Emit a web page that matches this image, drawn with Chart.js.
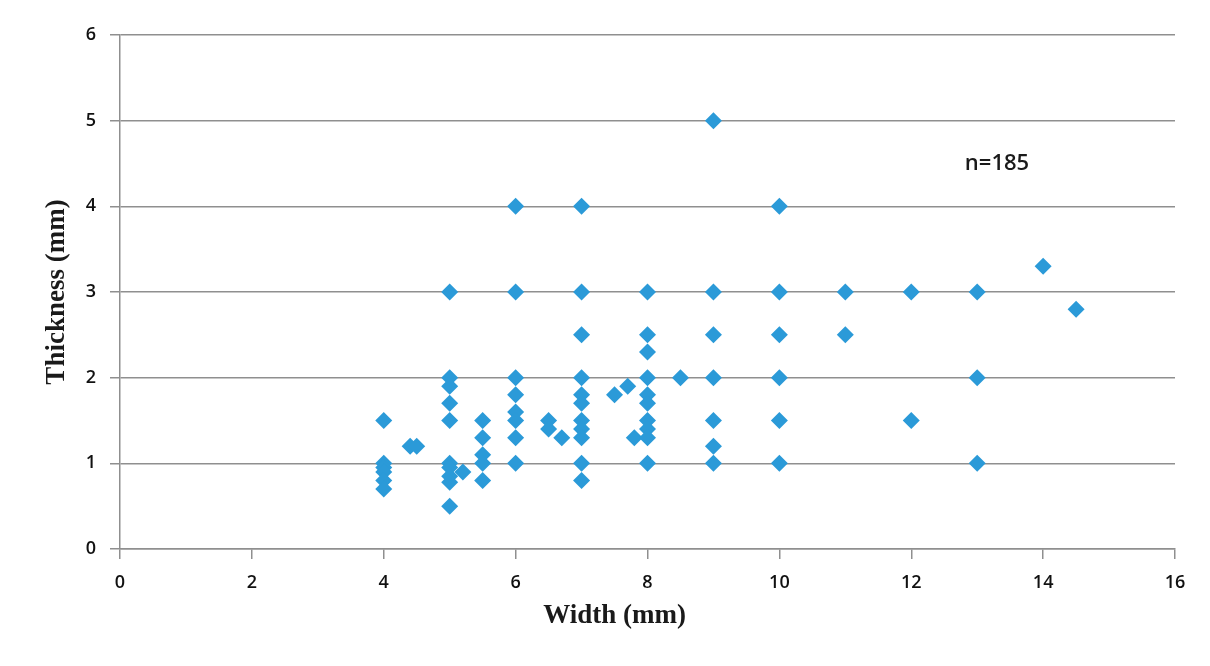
<!DOCTYPE html>
<html>
<head>
<meta charset="utf-8">
<script src="https://cdn.jsdelivr.net/npm/chart.js@4.4.1/dist/chart.umd.min.js"></script>
<style>
  html, body { margin: 0; padding: 0; background: #fff; }
</style>
</head>
<body>
<canvas id="scatterChart" width="1210" height="666"></canvas>
<script>
// width (mm) / thickness (mm) pairs
const widths = [
  4, 4, 4, 4, 4, 4,
  4.4, 4.5,
  5, 5, 5, 5, 5, 5, 5, 5, 5, 5,
  5.2,
  5.5, 5.5, 5.5, 5.5, 5.5,
  6, 6, 6, 6, 6, 6, 6, 6,
  6.5, 6.5, 6.7,
  7, 7, 7, 7, 7, 7, 7, 7, 7, 7, 7,
  7.5, 7.7, 7.8,
  8, 8, 8, 8, 8, 8, 8, 8, 8, 8,
  8.5,
  9, 9, 9, 9, 9, 9, 9,
  10, 10, 10, 10, 10, 10,
  11, 11,
  12, 12,
  13, 13, 13,
  14, 14.5
];
const thicknesses = [
  1.5, 1.0, 0.95, 0.9, 0.8, 0.7,
  1.2, 1.2,
  3.0, 2.0, 1.9, 1.7, 1.5, 1.0, 0.95, 0.85, 0.78, 0.5,
  0.9,
  1.5, 1.3, 1.1, 1.0, 0.8,
  4.0, 3.0, 2.0, 1.8, 1.6, 1.5, 1.3, 1.0,
  1.5, 1.4, 1.3,
  4.0, 3.0, 2.5, 2.0, 1.8, 1.7, 1.5, 1.4, 1.3, 1.0, 0.8,
  1.8, 1.9, 1.3,
  3.0, 2.5, 2.3, 2.0, 1.8, 1.7, 1.5, 1.4, 1.3, 1.0,
  2.0,
  5.0, 3.0, 2.5, 2.0, 1.5, 1.2, 1.0,
  4.0, 3.0, 2.5, 2.0, 1.5, 1.0,
  3.0, 2.5,
  3.0, 1.5,
  3.0, 2.0, 1.0,
  3.3, 2.8
];
const xTickValues = [0, 2, 4, 6, 8, 10, 12, 14, 16];
const yTickValues = [0, 1, 2, 3, 4, 5, 6];
const sampleNote = 'n=185';

const points = widths.map((w, i) => ({ x: w, y: thicknesses[i] }));

const gridGray = '#8f8f8f';
const tickFont = { family: '"Open Sans", sans-serif', size: 18, weight: '600' };
const titleFont = { family: '"Liberation Serif", "Times New Roman", serif', size: 27, weight: 'bold' };

// extra texts: x axis title (sits a bit left of centre) and the n= note
const textPlugin = {
  id: 'texts',
  afterDraw(chart) {
    const { ctx, scales: { x, y } } = chart;
    ctx.save();
    ctx.fillStyle = '#1a1a1a';
    ctx.textAlign = 'center';
    ctx.textBaseline = 'middle';
    ctx.font = 'bold 27px "Liberation Serif", serif';
    ctx.fillText('Width (mm)', x.getPixelForValue(7.5), 616);
    ctx.font = '600 22px "Open Sans", sans-serif';
    ctx.fillText(sampleNote, x.getPixelForValue(13.3), y.getPixelForValue(4.5));
    ctx.restore();
  }
};

const ctx = document.getElementById('scatterChart').getContext('2d');

const chart = new Chart(ctx, {
  type: 'scatter',
  data: {
    datasets: [{
      label: 'Thickness',
      data: points,
      pointStyle: 'rectRot',
      pointRadius: 8.5,
      pointHoverRadius: 8.5,
      pointBorderWidth: 0,
      backgroundColor: '#2b9ad8',
      borderColor: '#2b9ad8'
    }]
  },
  options: {
    responsive: false,
    animation: false,
    layout: { padding: { left: 0, top: 35, right: 35, bottom: 0 } },
    plugins: {
      legend: { display: false },
      tooltip: { enabled: false }
    },
    scales: {
      x: {
        type: 'linear',
        min: 0,
        max: 16,
        afterBuildTicks: s => { s.ticks = xTickValues.map(v => ({ value: v })); },
        afterFit: s => { s.height = 117; },
        grid: { drawOnChartArea: false, drawTicks: true, tickLength: 10, color: gridGray, lineWidth: 1.5 },
        border: { color: gridGray, width: 1.5 },
        ticks: { font: tickFont, color: '#111', padding: 13, maxRotation: 0 }
      },
      y: {
        type: 'linear',
        min: 0,
        max: 6,
        afterBuildTicks: s => { s.ticks = yTickValues.map(v => ({ value: v })); },
        afterFit: s => { s.width = 120; },
        grid: { drawTicks: true, tickLength: 10, color: gridGray, lineWidth: 1.5 },
        border: { color: gridGray, width: 1.5 },
        ticks: { font: tickFont, color: '#111', padding: 14 },
        title: {
          display: true,
          text: 'Thickness (mm)',
          font: titleFont,
          color: '#1a1a1a',
          padding: { top: 41, bottom: 0 }
        }
      }
    }
  },
  plugins: [textPlugin]
});
</script>
</body>
</html>
